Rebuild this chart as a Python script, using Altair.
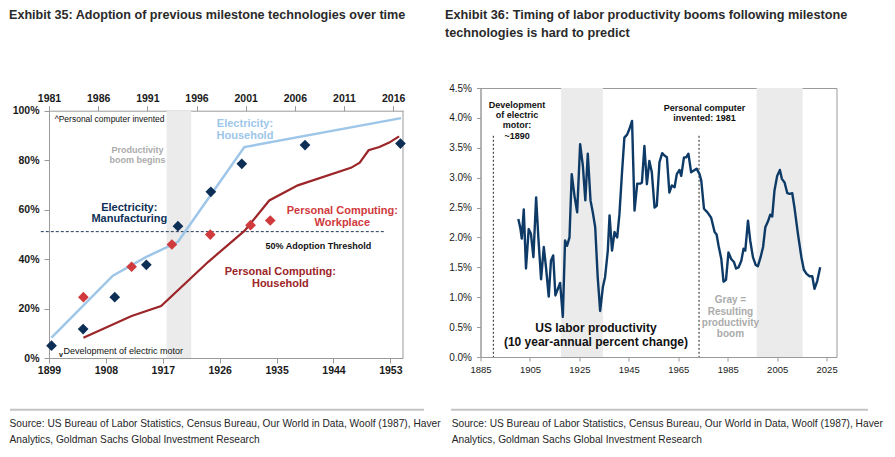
import altair as alt
import pandas as pd

# ---------------- Exhibit 35 data ----------------
elec_house_year = [1899.4, 1909.1, 1914.4, 1917.5, 1919.4, 1929.9, 1954.7]
elec_house_share = [0.082, 0.333, 0.409, 0.446, 0.470, 0.853, 0.970]
elec_mfg_year = [1899.4, 1904.4, 1909.4, 1914.4, 1919.4, 1924.6, 1929.5, 1939.5, 1954.6]
elec_mfg_share = [0.050, 0.117, 0.246, 0.377, 0.533, 0.672, 0.785, 0.861, 0.867]
pc_house_year = [1984.5, 1989.4, 1992.4, 1997.2, 2000.9, 2003.4, 2006.3, 2011.7, 2012.6,
                 2013.5, 2014.6, 2015.6, 2016.6]
pc_house_share = [0.082, 0.170, 0.210, 0.389, 0.515, 0.637, 0.698, 0.769, 0.790,
                  0.840, 0.853, 0.871, 0.896]
pc_work_year = [1984.5, 1989.4, 1993.5, 1997.4, 2001.5, 2003.5]
pc_work_share = [0.246, 0.369, 0.459, 0.499, 0.537, 0.556]
threshold_share = [0.511]
threshold_from = [1897.7]
threshold_to = [1952.2]
boom35_start = [1917.6]
boom35_end = [1921.5]
bottom_ticks35 = [1899, 1908, 1917, 1926, 1935, 1944, 1953]
top_ticks35 = [1981, 1986, 1991, 1996, 2001, 2006, 2011, 2016]
share_ticks = [0, 0.2, 0.4, 0.6, 0.8, 1.0]
year_span35 = [1899, 1955]
share_span = [0.0, 1.0]

# ---------------- Exhibit 36 data ----------------
prod_year = [1900.3, 1901.1, 1901.7, 1902.5, 1903.4, 1904.5, 1905.4, 1906.4, 1907.5, 1908.4,
             1909.5, 1910.6, 1911.5, 1912.6, 1913.5, 1914.4, 1915.3, 1916.3, 1917.2, 1918.3,
             1919.2, 1920.0, 1921.0, 1921.9, 1923.0, 1924.1, 1925.3, 1926.4, 1927.4, 1928.4,
             1929.5, 1930.5, 1931.4, 1932.4, 1933.4, 1934.5, 1935.4, 1936.5, 1937.2, 1938.2,
             1939.2, 1940.3, 1941.2, 1942.2, 1943.2, 1944.3, 1945.2, 1946.3, 1947.3, 1948.4,
             1949.7, 1950.3, 1951.3, 1952.3, 1953.3, 1954.3, 1955.4, 1956.3, 1957.4, 1958.5,
             1959.4, 1960.4, 1961.4, 1962.4, 1963.5, 1964.4, 1965.5, 1966.2, 1967.3, 1968.2,
             1969.1, 1970.2, 1971.3, 1972.4, 1973.6, 1974.3, 1975.4, 1976.8, 1978.3, 1979.7,
             1980.5, 1981.3, 1982.4, 1983.3, 1984.3, 1985.3, 1986.4, 1987.5, 1988.4, 1989.4,
             1990.5, 1991.4, 1992.1, 1993.2, 1994.1, 1995.2, 1996.3, 1997.2, 1998.3, 1999.3,
             2000.2, 2001.3, 2002.2, 2003.0, 2003.9, 2005.0, 2006.1, 2006.9, 2008.0, 2009.1,
             2010.0, 2011.1, 2012.0, 2013.4, 2014.8, 2015.8, 2016.9, 2018.1, 2019.2, 2020.1,
             2021.2, 2022.4]
prod_growth = [2.31, 2.16, 1.98, 2.47, 1.48, 2.14, 2.06, 1.67, 2.67, 2.00,
               1.30, 1.84, 1.50, 1.01, 1.61, 1.70, 1.03, 1.14, 1.24, 0.67,
               1.95, 1.86, 2.00, 3.06, 2.70, 2.42, 3.56, 3.20, 2.62, 3.40,
               2.62, 2.40, 2.17, 1.34, 0.77, 1.17, 1.34, 1.78, 2.37, 1.78,
               2.09, 2.00, 2.39, 3.06, 3.67, 3.72, 3.81, 3.95, 2.45, 2.90,
               2.90, 2.92, 3.53, 2.89, 3.28, 3.09, 2.50, 2.53, 3.26, 3.41,
               3.37, 3.34, 2.75, 2.87, 2.84, 3.06, 3.13, 3.03, 3.34, 3.34,
               3.40, 3.09, 3.12, 3.15, 3.06, 2.95, 2.48, 2.42, 2.33, 2.09,
               2.05, 1.86, 1.64, 1.26, 1.29, 1.75, 1.64, 1.59, 1.48, 1.50,
               1.61, 1.81, 1.78, 2.28, 1.95, 1.67, 1.54, 1.52, 1.67, 1.84,
               2.17, 2.27, 2.38, 2.35, 2.78, 3.03, 3.13, 2.98, 2.92, 2.74,
               2.73, 2.74, 2.50, 2.06, 1.67, 1.46, 1.39, 1.35, 1.35, 1.14,
               1.27, 1.50]
boom36_start = [1917.6, 1996.7]
boom36_end = [1934.5, 2015.3]
milestone_year = [1890.2, 1973.4]
milestone_top = [3.7, 3.7]
milestone_base = [0.0, 0.0]
year_ticks36 = [1885, 1905, 1925, 1945, 1965, 1985, 2005, 2025]
growth_ticks = [0.0, 0.5, 1.0, 1.5, 2.0, 2.5, 3.0, 3.5, 4.0, 4.5]

source_lines = ["Source: US Bureau of Labor Statistics, Census Bureau, Our World in Data, Woolf (1987), Haver",
                "Analytics, Goldman Sachs Global Investment Research"]

# ---------------- styles ----------------
FONT = "Liberation Sans, Arial, sans-serif"
NARROW = "Liberation Sans Narrow, Arial Narrow, sans-serif"
AX = "#9a9a9a"
LIGHT_BLUE = "#9dc6e9"
NAVY = "#0d2f56"
RED = "#d03a3c"
DARK_RED = "#9c2528"
LINE36 = "#0d3a66"
BAND = "#ebebeb"
GRAY_TXT = "#ababab"


def axis(values, orient, fmt=None, expr=None, bold=True, size=10.5, pad=2, tick=5, offset=0):
    kw = dict(values=values, orient=orient, title=None, grid=False, labelFont=FONT,
              labelFontSize=size, labelFontWeight="bold" if bold else "normal",
              labelColor="#1a1a1a", tickSize=tick, labelPadding=pad, domainColor=AX,
              tickColor=AX, labelFlush=False, labelOverlap=False, labelBound=False,
              offset=offset)
    if fmt:
        kw["format"] = fmt
    if expr:
        kw["labelExpr"] = expr
    return alt.Axis(**kw)


# ================= Exhibit 35 scales / axes =================
TOP_GAP = 22.7          # plot area of exhibit 35 starts lower than exhibit 36
W35, H35 = 354, 270
xb = alt.Scale(domain=[1899, 1955], nice=False, zero=False)
xt = alt.Scale(domain=[1981, 2017], nice=False, zero=False)
ys = alt.Scale(domain=[0, 1], range=[H35, TOP_GAP], nice=False, zero=False)
AXB = axis(bottom_ticks35, "bottom", fmt="d", pad=2)
AXT = axis(top_ticks35, "top", fmt="d", pad=2, offset=-TOP_GAP)
AXY = axis(share_ticks, "left", fmt=".0%", pad=5)

# ================= Exhibit 36 scales / axes =================
W36, H36 = 356, 269
xr = alt.Scale(domain=[1885, 2029], nice=False, zero=False)
yr = alt.Scale(domain=[0, 4.5], nice=False, zero=False)
AXR = axis(year_ticks36, "bottom", fmt="d", bold=False, size=9.5, pad=3, tick=4)
AXRY = axis(growth_ticks, "left", bold=False, size=10, pad=5, tick=4,
            expr="format(datum.value, '.1f') + '%'")


def X(field, scale, ax):
    return alt.X(field, type="quantitative", scale=scale, axis=ax)


def Y(field, scale, ax):
    return alt.Y(field, type="quantitative", scale=scale, axis=ax)


def note(x, y, lines, xscale, xax, yscale, yax, **style):
    # y is the centre of the first line; further lines continue downwards
    df = pd.DataFrame({"x": [x], "y": [y]})
    return alt.Chart(df).mark_text(text=lines, font=FONT, **style).encode(
        x=X("x", xscale, xax), y=Y("y", yscale, yax))


def fixed_text(px, py, lines, **style):
    return alt.Chart(pd.DataFrame({"a": [0]})).mark_text(text=lines, **style).encode(
        x=alt.value(px), y=alt.value(py))


def fixed_rule(px0, px1, py):
    return alt.Chart(pd.DataFrame({"a": [0]})).mark_rule(color="#c4c4c4", strokeWidth=2).encode(
        x=alt.value(px0), x2=alt.value(px1), y=alt.value(py))


# ================= Exhibit 35 =================
band35 = alt.Chart(pd.DataFrame({"s": boom35_start, "e": boom35_end,
                                 "top": [share_span[1]], "base": [share_span[0]]})).mark_rect(
    color=BAND).encode(x=X("s", xb, AXB), x2="e:Q", y=Y("top", ys, AXY), y2="base:Q")

frame_right35 = alt.Chart(pd.DataFrame({"x": [year_span35[1]], "top": [share_span[1]],
                                        "base": [share_span[0]]})).mark_rule(
    color=AX, strokeWidth=1).encode(x=X("x", xb, AXB), y=Y("top", ys, AXY), y2="base:Q")

thresh = alt.Chart(pd.DataFrame({"a": threshold_from, "b": threshold_to, "y": threshold_share})).mark_rule(
    color="#1f3b5c", strokeDash=[3, 2], strokeWidth=1).encode(
    x=X("a", xb, AXB), x2="b:Q", y=Y("y", ys, AXY))

elec_line = alt.Chart(pd.DataFrame({"year": elec_house_year, "share": elec_house_share})).mark_line(
    color=LIGHT_BLUE, strokeWidth=2.5).encode(x=X("year", xb, AXB), y=Y("share", ys, AXY))

elec_pts = alt.Chart(pd.DataFrame({"year": elec_mfg_year, "share": elec_mfg_share})).mark_point(
    shape="diamond", filled=True, size=115, color=NAVY, opacity=1).encode(
    x=X("year", xb, AXB), y=Y("share", ys, AXY))


def note35(x, y, lines, **style):
    return note(x, y, lines, xb, AXB, ys, AXY, **style)


notes35 = [
    note35(1899.9, 0.968, ["^Personal computer invented"], align="left", baseline="middle",
           fontSize=8.5, color="#111111"),
    note35(1901.3, 0.028, ["Development of electric motor"], align="left", baseline="middle",
           fontSize=9, color="#111111"),
    note35(1900.9, 0.013, ["v"], align="center", baseline="middle", fontSize=7,
           fontWeight="bold", color="#111111"),
    note35(1913.0, 0.843, ["Productivity", "boom begins"], align="center", baseline="middle",
           fontSize=9, fontWeight="bold", color=GRAY_TXT, lineHeight=10),
    note35(1930.0, 0.947, ["Electricity:", "Household"], align="center", baseline="middle",
           fontSize=11, fontWeight="bold", color=LIGHT_BLUE, lineHeight=12),
    note35(1911.7, 0.608, ["Electricity:", "Manufacturing"], align="center", baseline="middle",
           fontSize=11, fontWeight="bold", color=NAVY, lineHeight=11.5),
    note35(1945.4, 0.596, ["Personal Computing:", "Workplace"], align="center", baseline="middle",
           fontSize=11, fontWeight="bold", color=RED, lineHeight=12),
    note35(1941.6, 0.451, ["50% Adoption Threshold"], align="center", baseline="middle",
           fontSize=9, fontWeight="bold", color="#111111"),
    note35(1935.6, 0.346, ["Personal Computing:", "Household"], align="center", baseline="middle",
           fontSize=11, fontWeight="bold", color=DARK_RED, lineHeight=11.5),
]

frame35 = [
    fixed_text(-40, -79.3, ["Exhibit 35: Adoption of previous milestone technologies over time"],
               align="left", baseline="top", font=NARROW, fontSize=12.6, fontWeight="bold",
               color="#2a2a2a"),
    fixed_rule(-39, 375, 321.7),
    fixed_text(-39.5, 336, source_lines, align="left", baseline="middle", font=NARROW,
               fontSize=10.2, color="#262626", lineHeight=16),
]

elec_group = alt.layer(band35, frame_right35, thresh, elec_line, elec_pts, *notes35, *frame35)

pc_line = alt.Chart(pd.DataFrame({"year": pc_house_year, "share": pc_house_share})).mark_line(
    color=DARK_RED, strokeWidth=2.2).encode(x=X("year", xt, AXT), y=Y("share", ys, AXY))

pc_pts = alt.Chart(pd.DataFrame({"year": pc_work_year, "share": pc_work_share})).mark_point(
    shape="diamond", filled=True, size=115, color=RED, opacity=1).encode(
    x=X("year", xt, AXT), y=Y("share", ys, AXY))

pc_group = alt.layer(pc_line, pc_pts)

left = alt.layer(elec_group, pc_group).resolve_scale(x="independent").properties(
    width=W35, height=H35, view=alt.ViewBackground(stroke="transparent"))

# ================= Exhibit 36 =================
band36 = alt.Chart(pd.DataFrame({"s": boom36_start, "e": boom36_end})).mark_rect(color=BAND).encode(
    x=X("s", xr, AXR), x2="e:Q")

vlines = alt.Chart(pd.DataFrame({"year": milestone_year, "top": milestone_top,
                                 "base": milestone_base})).mark_rule(
    color="#222222", strokeDash=[2, 2], strokeWidth=1).encode(
    x=X("year", xr, AXR), y=Y("top", yr, AXRY), y2="base:Q")

prod_line = alt.Chart(pd.DataFrame({"year": prod_year, "growth": prod_growth})).mark_line(
    color=LINE36, strokeWidth=2.4, strokeJoin="round").encode(
    x=X("year", xr, AXR), y=Y("growth", yr, AXRY))


def note36(x, y, lines, **style):
    return note(x, y, lines, xr, AXR, yr, AXRY, **style)


notes36 = [
    note36(1899.8, 4.22, ["Development", "of electric", "motor:", "~1890"], align="center",
           baseline="middle", fontSize=9, fontWeight="bold", color="#111111", lineHeight=10.3),
    note36(1975.6, 4.17, ["Personal computer", "invented: 1981"], align="center",
           baseline="middle", fontSize=9, fontWeight="bold", color="#111111", lineHeight=10),
    note36(1986.1, 0.946, ["Gray =", "Resulting", "productivity", "boom"], align="center",
           baseline="middle", fontSize=10, fontWeight="bold", color=GRAY_TXT, lineHeight=11.3),
    note36(1931.7, 0.479, ["US labor productivity", "(10 year-annual percent change)"],
           align="center", baseline="middle", fontSize=12, fontWeight="bold", color="#111111",
           lineHeight=14),
]

frame36 = [
    fixed_text(-35.5, -79.3, ["Exhibit 36: Timing of labor productivity booms following milestone",
                              "technologies is hard to predict"],
               align="left", baseline="top", font=NARROW, fontSize=12.7, fontWeight="bold",
               color="#2a2a2a", lineHeight=18.2),
    fixed_rule(-29.5, 387.5, 321.7),
    fixed_text(-28.8, 336, source_lines, align="left", baseline="middle", font=NARROW,
               fontSize=10.2, color="#262626", lineHeight=16),
]

right = alt.layer(band36, vlines, prod_line, *notes36, *frame36).properties(width=W36, height=H36)

chart = alt.hconcat(left, right, spacing=77.5, bounds="flush").properties(
    padding=0, background="white").configure_view(stroke=AX, strokeWidth=1)

chart.save("out.html", embed_options={"renderer": "svg", "actions": False})
